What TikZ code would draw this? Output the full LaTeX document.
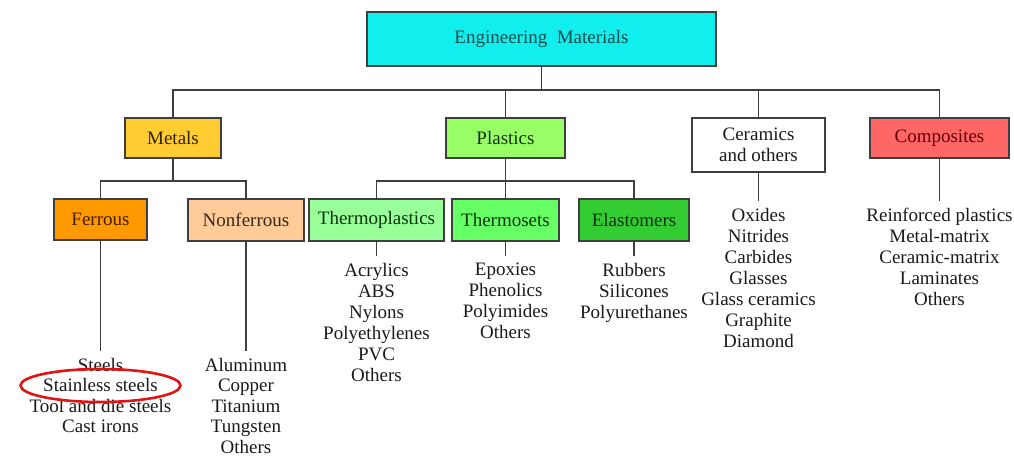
\documentclass[tikz,border=0pt]{standalone}
\usepackage{fontspec}
\setmainfont{Liberation Serif}
\newfontfamily\lserif{Liberation Serif}
\usetikzlibrary{shapes.geometric}
\definecolor{cEM}{HTML}{11EEEE}
\definecolor{cMet}{HTML}{FFCC33}
\definecolor{cFer}{HTML}{FF9900}
\definecolor{cNon}{HTML}{FFCC99}
\definecolor{cPla}{HTML}{99FF66}
\definecolor{cTpl}{HTML}{99FF99}
\definecolor{cTse}{HTML}{66FF66}
\definecolor{cEla}{HTML}{33CC33}
\definecolor{cCom}{HTML}{FF6666}
\definecolor{lineC}{HTML}{3F3F3F}
\definecolor{txt}{HTML}{1A1A1A}
\definecolor{tEM}{HTML}{1E4B4B}
\definecolor{tMet}{HTML}{322300}
\definecolor{tPla}{HTML}{14320A}
\definecolor{tCom}{HTML}{640000}
\definecolor{tFer}{HTML}{461E00}
\definecolor{tNon}{HTML}{372819}
\definecolor{tGrn}{HTML}{0A320A}
\definecolor{hlRed}{HTML}{E11414}
\tikzset{
  box/.style={draw=lineC, line width=1.3pt, inner sep=0pt, align=center,
    font=\lserif\fontsize{19}{21}\selectfont},
  conn/.style={draw=lineC, line width=1.3pt},
  itemlist/.style={anchor=north, inner sep=0pt, align=center, text=txt,
    font=\lserif\fontsize{19}{21}\selectfont},
}
\begin{document}
\begin{tikzpicture}[x=1pt,y=-1pt]
\useasboundingbox (0,0) rectangle (1014,459);
% boxes
\node[box, fill=cEM, text=tEM, minimum width=349pt, minimum height=54pt] (em) at (541.5,39) {Engineering\ \ Materials};
\node[box, fill=cMet, text=tMet, minimum width=96pt, minimum height=40pt] (metals) at (173,138) {Metals};
\node[box, fill=cPla, text=tPla, minimum width=119pt, minimum height=40pt] (plastics) at (505.5,138) {Plastics};
\node[box, fill=white, text=txt, minimum width=133pt, minimum height=54pt] (ceramics) at (758.5,145) {Ceramics\\and others};
\node[box, fill=cCom, text=tCom, minimum width=139pt, minimum height=40pt] (composites) at (939.5,138) {Composites};
\node[box, fill=cFer, text=tFer, minimum width=93pt, minimum height=41pt] (ferrous) at (100.5,219.5) {Ferrous};
\node[box, fill=cNon, text=tNon, minimum width=116pt, minimum height=42pt] (nonferrous) at (246,220) {Nonferrous};
\node[box, fill=cTpl, text=tGrn, minimum width=135pt, minimum height=42pt] (thermoplastics) at (376.5,220) {Thermoplastics};
\node[box, fill=cTse, text=tGrn, minimum width=107pt, minimum height=42pt] (thermosets) at (505.5,220) {Thermosets};
\node[box, fill=cEla, text=tGrn, minimum width=110pt, minimum height=42pt] (elastomers) at (634,220) {Elastomers};
% lists
\node[itemlist, font=\lserif\fontsize{19}{20.5}\selectfont] (ferL) at (100.5,358) {Steels\\Stainless steels\\Tool and die steels\\Cast irons};
\node[itemlist, font=\lserif\fontsize{19}{20.5}\selectfont] (nonL) at (246,358) {Aluminum\\Copper\\Titanium\\Tungsten\\Others};
\node[itemlist] (tplL) at (376.5,263) {Acrylics\\ABS\\Nylons\\Polyethylenes\\PVC\\Others};
\node[itemlist] (tseL) at (505.5,263) {Epoxies\\Phenolics\\Polyimides\\Others};
\node[itemlist] (elaL) at (634,263) {Rubbers\\Silicones\\Polyurethanes};
\node[itemlist] (cerL) at (758.5,208) {Oxides\\Nitrides\\Carbides\\Glasses\\Glass ceramics\\Graphite\\Diamond};
\node[itemlist] (comL) at (939.5,208) {Reinforced plastics\\Metal-matrix\\Ceramic-matrix\\Laminates\\Others};
% bus coordinates
\coordinate (bus1) at (541.5,90);
\coordinate (bus2) at (173,181);
\coordinate (bus3) at (505.5,181);
% top level connectors
\draw[conn] (em.south) -- (em.south |- bus1);
\draw[conn] (metals.north) |- (composites.north |- bus1) -- (composites.north);
\draw[conn] (plastics.north) -- (plastics.north |- bus1);
\draw[conn] (ceramics.north) -- (ceramics.north |- bus1);
% metals
\draw[conn] (metals.south) -- (bus2);
\draw[conn] (ferrous.north) |- (nonferrous.north |- bus2) -- (nonferrous.north);
% plastics
\draw[conn] (plastics.south) -- (bus3);
\draw[conn] (thermoplastics.north) |- (elastomers.north |- bus3) -- (elastomers.north);
\draw[conn] (thermosets.north) -- (thermosets.north |- bus3);
% to lists
\foreach \a/\b in {ferrous/ferL, nonferrous/nonL, thermoplastics/tplL, thermosets/tseL, elastomers/elaL, ceramics/cerL, composites/comL}
  \draw[conn, shorten >=7pt] (\a.south) -- (\b.north);
% highlight
\node[draw=hlRed, line width=2.6pt, ellipse, minimum width=160pt, minimum height=33pt, inner sep=0pt] (hl) at (100.5,385.5) {};
\end{tikzpicture}
\end{document}
